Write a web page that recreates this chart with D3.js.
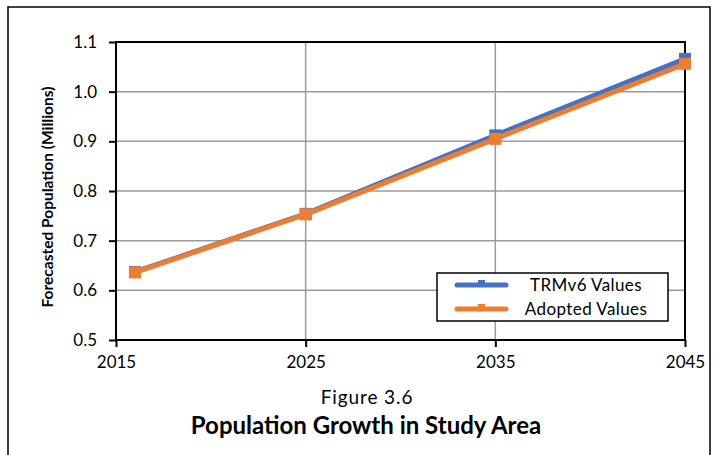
<!DOCTYPE html>
<html>
<head>
<meta charset="utf-8">
<script src="https://cdn.jsdelivr.net/npm/d3@7"></script>
<style>
  html, body { margin: 0; padding: 0; background: #fff; }
  svg { display: block; font-family: Lato, "Open Sans", sans-serif; }
</style>
</head>
<body>
<svg id="chart" width="717" height="455"></svg>
<script>
// Forecast years and population (millions)
const years = [2016, 2025, 2035, 2045];
const trmValues = [0.637, 0.754, 0.912, 1.066];
const adoptedValues = [0.636, 0.753, 0.905, 1.056];
const xTicks = [2015, 2025, 2035, 2045];
const yTicks = [0.5, 0.6, 0.7, 0.8, 0.9, 1.0, 1.1];
const seriesNames = ["TRMv6 Values", "Adopted Values"];
const seriesColors = ["#4472C4", "#ED7D31"];

const svg = d3.select("#chart");
const W = 717, H = 455;
const m = { left: 116, right: 685, top: 42, bottom: 340 };
const FONT = "Lato, 'Open Sans', sans-serif";

// Outer frame
svg.append("path")
  .attr("d", `M8,${H} L8,7 L710,7 L710,${H}`)
  .attr("fill", "none").attr("stroke", "#000").attr("stroke-width", 1.5);

const x = d3.scaleLinear().domain([2015, 2045]).range([m.left, m.right]);
const y = d3.scaleLinear().domain([0.5, 1.1]).range([m.bottom, m.top]);

// Gridlines
const grid = svg.append("g");
grid.selectAll("line.gy").data(yTicks.slice(1, -1)).join("line")
  .attr("x1", m.left).attr("x2", m.right)
  .attr("y1", d => y(d)).attr("y2", d => y(d))
  .attr("stroke", "#9a9a9a").attr("stroke-width", 1.5);
grid.selectAll("line.gx").data(xTicks.slice(1, -1)).join("line")
  .attr("y1", m.top).attr("y2", m.bottom)
  .attr("x1", d => x(d)).attr("x2", d => x(d))
  .attr("stroke", "#9a9a9a").attr("stroke-width", 1.5);

// Plot frame
svg.append("rect")
  .attr("x", m.left).attr("y", m.top)
  .attr("width", m.right - m.left).attr("height", m.bottom - m.top)
  .attr("fill", "none").attr("stroke", "#000").attr("stroke-width", 2);

// Axes
const xAxis = svg.append("g").attr("transform", `translate(0,${m.bottom})`)
  .call(d3.axisBottom(x).tickValues(xTicks).tickFormat(d3.format("d")).tickSize(7).tickPadding(9));
const yAxis = svg.append("g").attr("transform", `translate(${m.left},0)`)
  .call(d3.axisLeft(y).tickValues(yTicks).tickFormat(d3.format(".1f")).tickSize(7).tickPadding(12));
[xAxis, yAxis].forEach(a => {
  a.attr("font-size", 17).attr("font-family", FONT);
  a.select(".domain").remove();
  a.selectAll(".tick line").attr("stroke", "#000").attr("stroke-width", 2);
  a.selectAll(".tick text").attr("fill", "#000");
});

// Y axis title
svg.append("text")
  .attr("transform", `translate(53,${(m.top + m.bottom) / 2 + 6}) rotate(-90)`)
  .attr("text-anchor", "middle")
  .attr("font-size", 15.5).attr("font-weight", "bold")
  .text("Forecasted Population (Millions)");

// Series
const series = [trmValues, adoptedValues];
const line = d3.line().x((d, i) => x(years[i])).y(d => y(d));
series.forEach((vals, s) => {
  const g = svg.append("g");
  g.append("path").datum(vals)
    .attr("d", line).attr("fill", "none")
    .attr("stroke", seriesColors[s]).attr("stroke-width", 5)
    .attr("stroke-linejoin", "round");
  g.selectAll("rect").data(vals).join("rect")
    .attr("x", (d, i) => x(years[i]) - 6).attr("y", d => y(d) - 6)
    .attr("width", 12).attr("height", 12)
    .attr("fill", seriesColors[s]);
});

// Legend
const lg = svg.append("g");
lg.append("rect").attr("x", 437).attr("y", 273).attr("width", 231).attr("height", 48)
  .attr("fill", "#fff").attr("stroke", "#000").attr("stroke-width", 1.5);
seriesNames.forEach((name, i) => {
  const cy = 285 + i * 24;
  lg.append("line").attr("x1", 457).attr("x2", 506).attr("y1", cy).attr("y2", cy)
    .attr("stroke", seriesColors[i]).attr("stroke-width", 5).attr("stroke-linecap", "round");
  lg.append("rect").attr("x", 478).attr("y", cy - 5).attr("width", 7).attr("height", 6)
    .attr("fill", seriesColors[i]);
  lg.append("text").attr("x", 586).attr("y", cy).attr("dy", "0.35em")
    .attr("text-anchor", "middle").attr("font-size", 17).attr("letter-spacing", 0.4)
    .text(name);
});

// Caption
svg.append("text").attr("x", 367).attr("y", 404).attr("text-anchor", "middle")
  .attr("font-size", 19).attr("letter-spacing", 0.9).text("Figure 3.6");
svg.append("text").attr("x", 366).attr("y", 434).attr("text-anchor", "middle")
  .attr("font-size", 24).attr("font-weight", "bold")
  .text("Population Growth in Study Area");
</script>
</body>
</html>
